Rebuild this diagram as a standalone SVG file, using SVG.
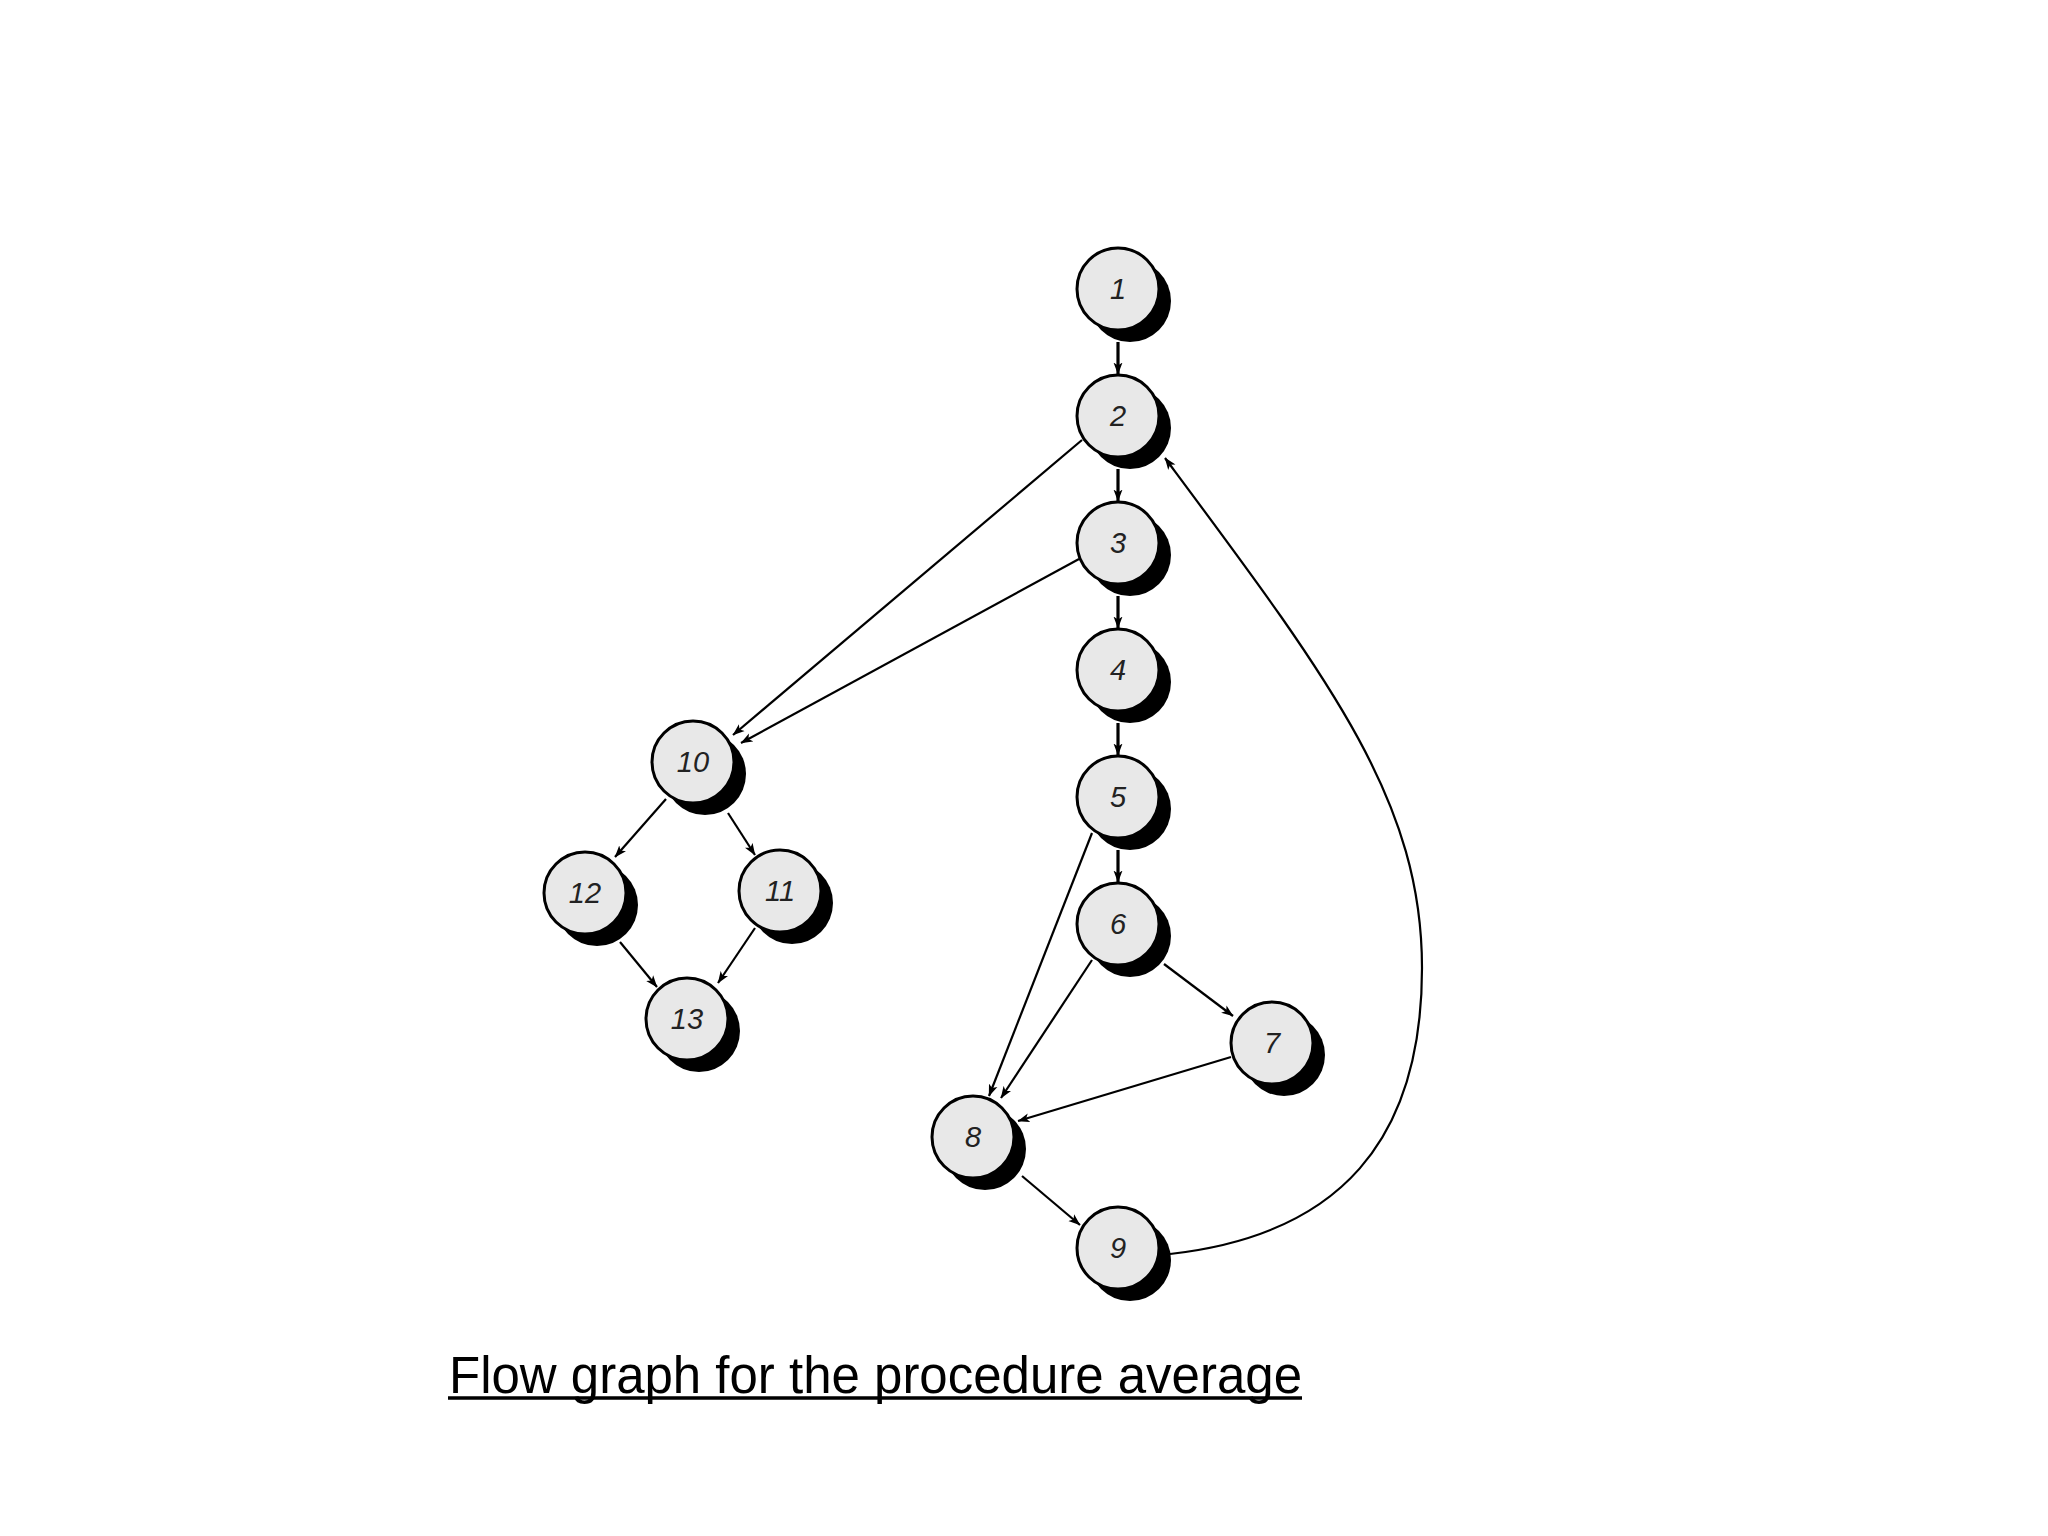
<svg xmlns="http://www.w3.org/2000/svg" width="2048" height="1536" viewBox="0 0 2048 1536">
<defs>
<style>
.shadow{fill:#000}
.node{fill:#e8e8e8;stroke:#000;stroke-width:3}
.lbl{font-family:"Liberation Sans",Arial,sans-serif;font-style:italic;font-size:29px;fill:#222;text-anchor:middle;dominant-baseline:central}
.edge{fill:none;stroke:#000;stroke-width:2.2}
.edge.thick{stroke-width:3.2}
.title{font-family:"Liberation Sans",Arial,sans-serif;font-size:51px;fill:#000}
</style>
<marker id="arr" viewBox="0 0 12 10" refX="11.5" refY="5" markerWidth="12" markerHeight="10" markerUnits="userSpaceOnUse" orient="auto">
<path d="M0,0.5 L12,5 L0,9.5 L3,5 z" fill="#000"/>
</marker>
</defs>
<rect width="2048" height="1536" fill="#fff"/>
<g id="connectors">
<line class="edge thick" x1="1118" y1="342" x2="1118" y2="374" marker-end="url(#arr)"/>
<line class="edge thick" x1="1118" y1="469" x2="1118" y2="501" marker-end="url(#arr)"/>
<line class="edge thick" x1="1118" y1="596" x2="1118" y2="628" marker-end="url(#arr)"/>
<line class="edge thick" x1="1118" y1="723" x2="1118" y2="755" marker-end="url(#arr)"/>
<line class="edge thick" x1="1118" y1="850" x2="1118" y2="882" marker-end="url(#arr)"/>
<line class="edge" x1="1082" y1="440" x2="733" y2="735" marker-end="url(#arr)"/>
<line class="edge" x1="1079" y1="559" x2="741" y2="743" marker-end="url(#arr)"/>
<line class="edge" x1="1092" y1="833" x2="989" y2="1096" marker-end="url(#arr)"/>
<line class="edge" x1="1092" y1="960" x2="1001" y2="1098" marker-end="url(#arr)"/>
<line class="edge" x1="1164" y1="964" x2="1233" y2="1016" marker-end="url(#arr)"/>
<line class="edge" x1="1231" y1="1057" x2="1018" y2="1121" marker-end="url(#arr)"/>
<line class="edge" x1="1022" y1="1176" x2="1080" y2="1225" marker-end="url(#arr)"/>
<line class="edge" x1="666" y1="799" x2="615" y2="857" marker-end="url(#arr)"/>
<line class="edge" x1="728" y1="813" x2="755" y2="855" marker-end="url(#arr)"/>
<line class="edge" x1="620" y1="942" x2="657" y2="987" marker-end="url(#arr)"/>
<line class="edge" x1="755" y1="928" x2="718" y2="983" marker-end="url(#arr)"/>
<path class="edge" d="M1170,1254 C1340,1235 1422,1140 1422,968 C1422,800 1330,680 1165,458" marker-end="url(#arr)"/>
</g>
<g id="node1"><circle class="shadow" cx="1130" cy="301" r="41"/><circle class="node" cx="1118" cy="289" r="41"/><text class="lbl" x="1118" y="289">1</text></g>
<g id="node2"><circle class="shadow" cx="1130" cy="428" r="41"/><circle class="node" cx="1118" cy="416" r="41"/><text class="lbl" x="1118" y="416">2</text></g>
<g id="node3"><circle class="shadow" cx="1130" cy="555" r="41"/><circle class="node" cx="1118" cy="543" r="41"/><text class="lbl" x="1118" y="543">3</text></g>
<g id="node4"><circle class="shadow" cx="1130" cy="682" r="41"/><circle class="node" cx="1118" cy="670" r="41"/><text class="lbl" x="1118" y="670">4</text></g>
<g id="node5"><circle class="shadow" cx="1130" cy="809" r="41"/><circle class="node" cx="1118" cy="797" r="41"/><text class="lbl" x="1118" y="797">5</text></g>
<g id="node6"><circle class="shadow" cx="1130" cy="936" r="41"/><circle class="node" cx="1118" cy="924" r="41"/><text class="lbl" x="1118" y="924">6</text></g>
<g id="node7"><circle class="shadow" cx="1284" cy="1055" r="41"/><circle class="node" cx="1272" cy="1043" r="41"/><text class="lbl" x="1272" y="1043">7</text></g>
<g id="node8"><circle class="shadow" cx="985" cy="1149" r="41"/><circle class="node" cx="973" cy="1137" r="41"/><text class="lbl" x="973" y="1137">8</text></g>
<g id="node9"><circle class="shadow" cx="1130" cy="1260" r="41"/><circle class="node" cx="1118" cy="1248" r="41"/><text class="lbl" x="1118" y="1248">9</text></g>
<g id="node10"><circle class="shadow" cx="705" cy="774" r="41"/><circle class="node" cx="693" cy="762" r="41"/><text class="lbl" x="693" y="762">10</text></g>
<g id="node11"><circle class="shadow" cx="792" cy="903" r="41"/><circle class="node" cx="780" cy="891" r="41"/><text class="lbl" x="780" y="891">11</text></g>
<g id="node12"><circle class="shadow" cx="597" cy="905" r="41"/><circle class="node" cx="585" cy="893" r="41"/><text class="lbl" x="585" y="893">12</text></g>
<g id="node13"><circle class="shadow" cx="699" cy="1031" r="41"/><circle class="node" cx="687" cy="1019" r="41"/><text class="lbl" x="687" y="1019">13</text></g>
<g id="title">
<text class="title" x="449" y="1393" textLength="853" lengthAdjust="spacingAndGlyphs">Flow graph for the procedure average</text>
<line x1="448" y1="1398" x2="1302" y2="1398" stroke="#000" stroke-width="3.5"/>
</g>
</svg>
